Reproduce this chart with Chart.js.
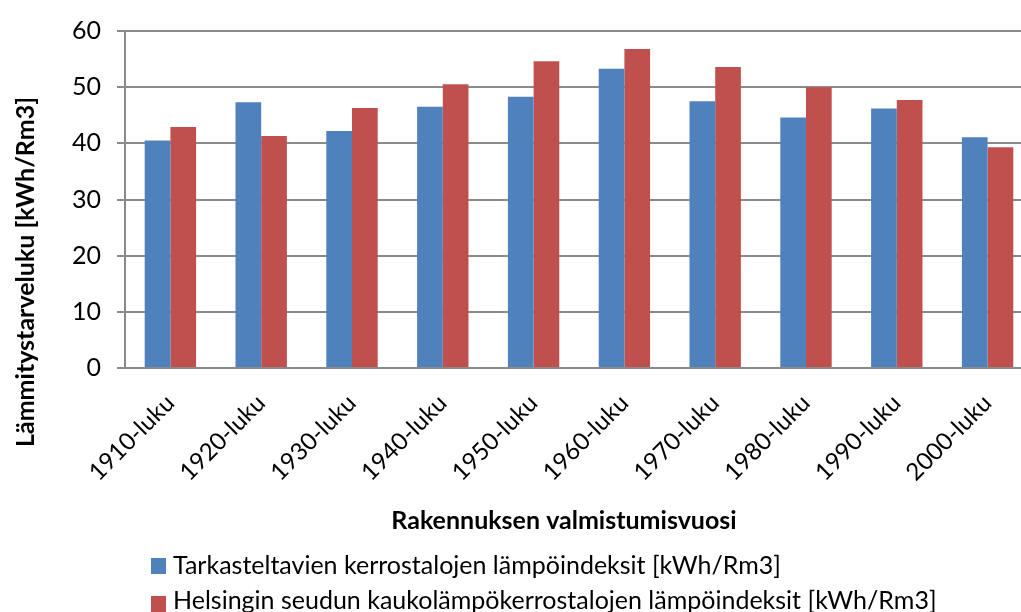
<!DOCTYPE html>
<html>
<head>
<meta charset="utf-8">
<script src="https://cdn.jsdelivr.net/npm/chart.js@4/dist/chart.umd.min.js"></script>
<style>
    html, body { margin: 0; padding: 0; background: #ffffff; overflow: hidden; }
    #wrap { position: relative; width: 1040px; height: 612px; }
</style>
</head>
<body>
<div id="wrap"><canvas id="lampoChart"></canvas></div>
<script>
    // Rakennusvuosikymmenet ja lämpöindeksit
    const vuosikymmenet = ['1910-luku', '1920-luku', '1930-luku', '1940-luku', '1950-luku',
                           '1960-luku', '1970-luku', '1980-luku', '1990-luku', '2000-luku'];
    const tarkasteltavat = [40.5, 47.3, 42.2, 46.5, 48.3, 53.3, 47.5, 44.6, 46.2, 41.1];
    const helsinginSeutu = [42.9, 41.3, 46.3, 50.5, 54.6, 56.8, 53.6, 50.0, 47.7, 39.3];
    const yTicks = [0, 10, 20, 30, 40, 50, 60];

    const sarjaNimet = [
        'Tarkasteltavien kerrostalojen lämpöindeksit [kWh/Rm3]',
        'Helsingin seudun kaukolämpökerrostalojen lämpöindeksit [kWh/Rm3]'
    ];
    const varit = ['#4F81BD', '#C0504D'];

    const fontFamily = 'Lato, "Open Sans", sans-serif';
    const gridColor = '#8a8a8a';

    // Akselien otsikot ja selite piirretään itse (Excelin asettelu)
    const tekstiPlugin = {
        id: 'tekstit',
        afterDraw(chart) {
            const ctx = chart.ctx;
            ctx.save();
            ctx.fillStyle = '#000000';

            // y-akselin otsikko
            ctx.font = 'bold 25px ' + fontFamily;
            ctx.textAlign = 'center';
            ctx.textBaseline = 'middle';
            ctx.translate(26, 272);
            ctx.rotate(-Math.PI / 2);
            ctx.fillText('Lämmitystarveluku [kWh/Rm3]', 0, 0);
            ctx.setTransform(1, 0, 0, 1, 0, 0);

            // x-akselin otsikko
            ctx.font = 'bold 25px ' + fontFamily;
            ctx.fillText('Rakennuksen valmistumisvuosi', 564, 521);

            // selite
            ctx.font = '25px ' + fontFamily;
            ctx.textAlign = 'left';
            const merkkiY = [558, 596];
            const tekstiY = [566, 601];
            sarjaNimet.forEach((nimi, i) => {
                ctx.fillStyle = varit[i];
                ctx.fillRect(151, merkkiY[i], 15, 16);
                ctx.fillStyle = '#000000';
                ctx.fillText(nimi, 173, tekstiY[i]);
            });
            ctx.restore();
        }
    };

    new Chart(document.getElementById('lampoChart'), {
        type: 'bar',
        data: {
            labels: vuosikymmenet,
            datasets: [
                {
                    label: sarjaNimet[0],
                    data: tarkasteltavat,
                    backgroundColor: varit[0],
                    borderWidth: 0
                },
                {
                    label: sarjaNimet[1],
                    data: helsinginSeutu,
                    backgroundColor: varit[1],
                    borderWidth: 0
                }
            ]
        },
        options: {
            responsive: true,
            maintainAspectRatio: false,
            animation: false,
            layout: {
                padding: { top: 28, right: 7, bottom: 114, left: 0 }
            },
            datasets: {
                bar: {
                    barPercentage: 1.0,
                    categoryPercentage: 0.566
                }
            },
            scales: {
                x: {
                    grid: { display: false, drawTicks: false },
                    border: { display: true, color: gridColor, width: 2 },
                    ticks: {
                        color: '#000000',
                        font: { family: fontFamily, size: 24 },
                        minRotation: 45,
                        maxRotation: 45,
                        autoSkip: false,
                        padding: 21
                    },
                    afterFit(scale) { scale.height = 130; }
                },
                y: {
                    min: 0,
                    max: 60,
                    afterBuildTicks(scale) {
                        scale.ticks = yTicks.map(v => ({ value: v }));
                    },
                    grid: {
                        color: gridColor,
                        lineWidth: 2,
                        drawTicks: true,
                        tickLength: 8
                    },
                    border: { display: true, color: gridColor, width: 2 },
                    ticks: {
                        color: '#000000',
                        font: { family: fontFamily, size: 25 },
                        padding: 16
                    },
                    afterFit(scale) { scale.width = 125; }
                }
            },
            plugins: {
                legend: { display: false },
                title: { display: false },
                tooltip: { enabled: false }
            }
        },
        plugins: [tekstiPlugin]
    });
</script>
</body>
</html>
